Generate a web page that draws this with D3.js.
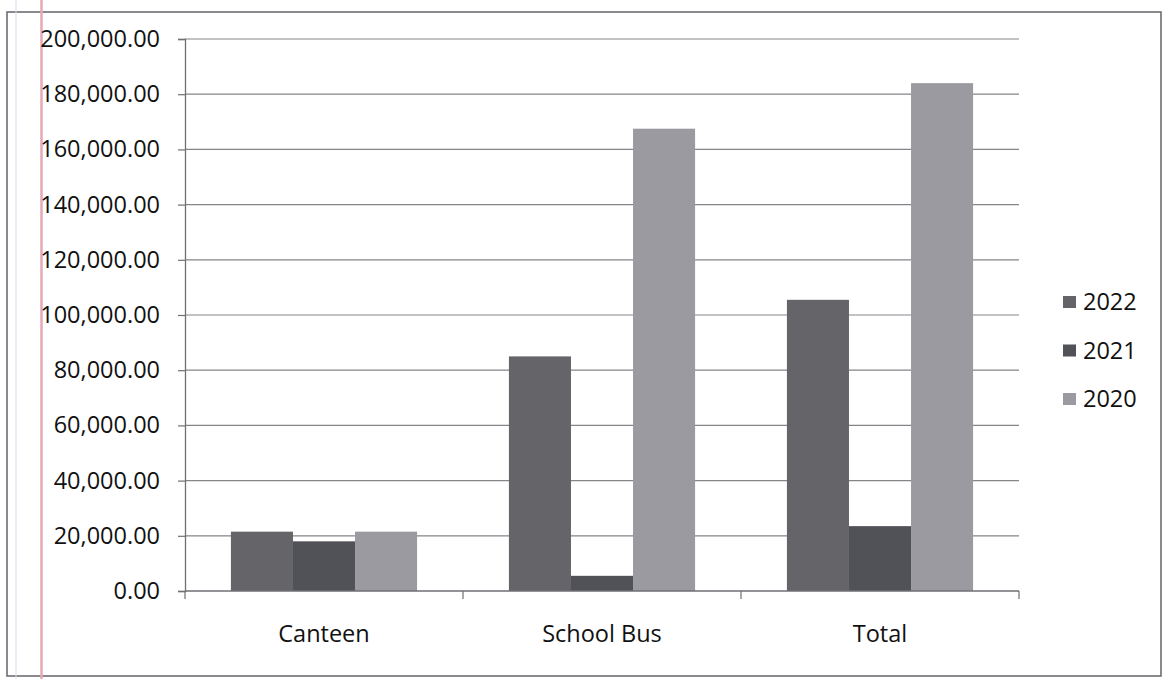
<!DOCTYPE html>
<html>
<head>
<meta charset="utf-8">
<script src="https://cdn.jsdelivr.net/npm/d3@7/dist/d3.min.js"></script>
<style>
  html, body { margin: 0; padding: 0; background: #fff; }
  svg { display: block; font-family: "Open Sans", "Noto Sans", sans-serif; }
</style>
</head>
<body>
<svg id="chart" width="1166" height="679"></svg>
<script>
// Income by source, three years
const categories = ["Canteen", "School Bus", "Total"];
const years = ["2022", "2021", "2020"];
const values2022 = [21500, 85000, 105500];
const values2021 = [18000, 5500, 23500];
const values2020 = [21500, 167500, 184000];
const yTicks = [0, 20000, 40000, 60000, 80000, 100000, 120000, 140000, 160000, 180000, 200000];

const seriesValues = { "2022": values2022, "2021": values2021, "2020": values2020 };
const colors = { "2022": "#646469", "2021": "#515158", "2020": "#9a9aa0" };
const textColor = "#111";
const fontSize = 23.5;

const svg = d3.select("#chart");
const W = 1166, H = 679;
const plot = { left: 185, right: 1019, top: 39, bottom: 591 };

// page frame and paper margin lines
svg.append("rect").attr("x", 7).attr("y", 12).attr("width", 1154).attr("height", 664)
  .attr("fill", "none").attr("stroke", "#6d6d72").attr("stroke-width", 1.6);
svg.append("line").attr("x1", 16).attr("x2", 16).attr("y1", 0).attr("y2", H)
  .attr("stroke", "#ddd6f2").attr("stroke-width", 1);
svg.append("line").attr("x1", 41.5).attr("x2", 41.5).attr("y1", 0).attr("y2", H)
  .attr("stroke", "#e7a9b6").attr("stroke-width", 2.5);

const y = d3.scaleLinear().domain([0, 200000]).range([plot.bottom, plot.top]);
const x = d3.scaleBand().domain(categories).range([plot.left, plot.right]).padding(0);
const xs = d3.scaleBand().domain(years).range([0, x.bandwidth()]).paddingInner(0).paddingOuter(0.74);

// horizontal gridlines
svg.append("g").selectAll("line").data(yTicks.filter(d => d > 0)).join("line")
  .attr("x1", plot.left).attr("x2", plot.right)
  .attr("y1", d => y(d)).attr("y2", d => y(d))
  .attr("stroke", "#858589").attr("stroke-width", 1.2);

// bars
const rows = categories.map((c, i) => ({ c, vals: years.map(k => ({ k, v: seriesValues[k][i] })) }));
svg.append("g").selectAll("g").data(rows).join("g")
  .attr("transform", d => `translate(${x(d.c)},0)`)
  .selectAll("rect").data(d => d.vals).join("rect")
  .attr("x", d => xs(d.k)).attr("width", xs.bandwidth())
  .attr("y", d => y(d.v)).attr("height", d => y(0) - y(d.v))
  .attr("fill", d => colors[d.k]);

// y axis
const yAxis = d3.axisLeft(y).tickValues(yTicks).tickSize(7).tickPadding(18)
  .tickFormat(d3.format(",.2f"));
const gy = svg.append("g").attr("transform", `translate(${plot.left},0)`).call(yAxis);
gy.select(".domain").attr("stroke", "#6f6f74").attr("stroke-width", 1.3);
gy.selectAll(".tick line").attr("stroke", "#6f6f74").attr("stroke-width", 1.2);
gy.selectAll(".tick text").attr("font-size", fontSize).attr("fill", textColor)
  .attr("font-family", "'Open Sans', sans-serif");

// x axis with ticks on category boundaries
const gx = svg.append("g").attr("transform", `translate(0,${plot.bottom})`);
gx.append("line").attr("x1", plot.left).attr("x2", plot.right).attr("y1", 0).attr("y2", 0)
  .attr("stroke", "#6f6f74").attr("stroke-width", 1.3);
const bounds = categories.map(c => x(c)).concat([x(categories[categories.length - 1]) + x.bandwidth()]);
gx.selectAll("line.tk").data(bounds).join("line").attr("class", "tk")
  .attr("x1", d => d).attr("x2", d => d).attr("y1", 0).attr("y2", 8)
  .attr("stroke", "#6f6f74").attr("stroke-width", 1.2);
gx.selectAll("text").data(categories).join("text")
  .attr("x", d => x(d) + x.bandwidth() / 2).attr("y", 51)
  .attr("text-anchor", "middle").attr("font-size", fontSize).attr("fill", textColor)
  .text(d => d);

// legend
const lg = svg.append("g").attr("transform", "translate(1063,302)");
const li = lg.selectAll("g").data(years).join("g")
  .attr("transform", (d, i) => `translate(0,${i * 48.5})`);
li.append("rect").attr("x", 0).attr("y", -6).attr("width", 13).attr("height", 12)
  .attr("fill", d => colors[d]);
li.append("text").attr("x", 20).attr("y", 0).attr("dy", "0.35em")
  .attr("font-size", fontSize).attr("fill", textColor).text(d => d);
</script>
</body>
</html>
